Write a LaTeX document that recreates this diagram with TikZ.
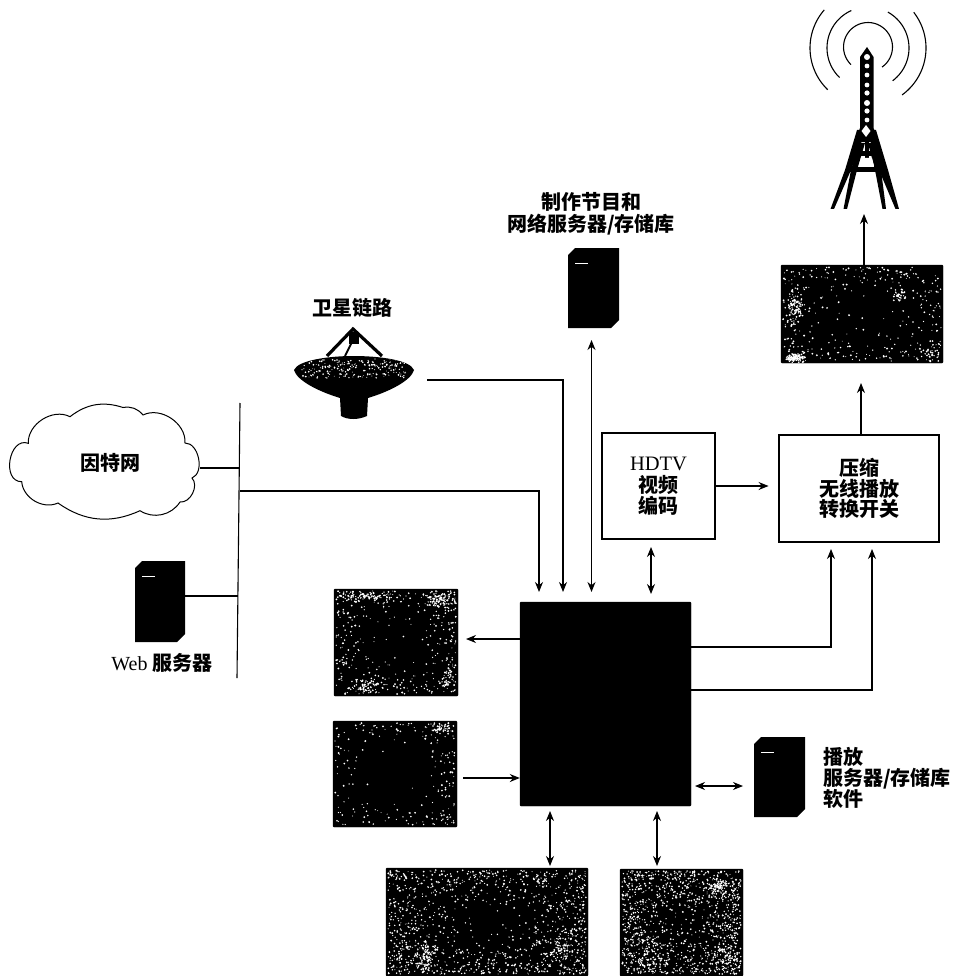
\documentclass[tikz,border=0pt]{standalone}
\usepackage{fontspec}
\setmainfont{Liberation Serif}
\newfontfamily\cjk{Noto Sans CJK SC}
\usetikzlibrary{arrows.meta}
\tikzset{
  x=1pt,y=-1pt,
  lbl/.style={font=\cjk\bfseries\fontsize{20}{22}\selectfont,align=center,inner sep=0pt,text=black},
  plainbox/.style={draw=black,line width=1.1pt,fill=white,inner sep=0pt,align=center,font=\cjk\bfseries\fontsize{20}{20.5}\selectfont,text=black},
  solidbox/.style={fill=black,draw=black,inner sep=0pt,rounded corners=1pt},
  conn/.style={line width=1.1pt,draw=black},
  arr/.style={conn,-{Stealth[length=10pt,width=8pt]}},
  darr/.style={conn,{Stealth[length=10pt,width=8pt]}-{Stealth[length=10pt,width=8pt]}},
  wave/.style={line width=1.1pt,draw=black},
  speck/.style={fill=white},
}
% name, x1, y1, x2, y2, attempts, edge exponent
\newcommand{\speckbox}[7]{%
  \node[solidbox,minimum width={(#4-#2)*1pt},minimum height={(#5-#3)*1pt}] (#1) at ({(#2+#4)/2},{(#3+#5)/2}) {};
  \foreach \spI in {1,...,#6}{%
    \pgfmathsetmacro{\spU}{rnd}\pgfmathsetmacro{\spV}{rnd}
    \pgfmathsetmacro{\spKeep}{rnd<pow(max(abs(2*\spU-1),abs(2*\spV-1)),#7) ? 1 : 0}
    \ifnum\spKeep=1
      \fill[speck] ({#2+2+(#4-#2-4)*\spU},{#3+2+(#5-#3-4)*\spV}) circle[radius=0.45+0.6*rnd];
    \fi
  }
}
% cx, cy, rx, ry, count: a bright patch of the grain
\newcommand{\speckpatch}[5]{%
  \foreach \spI in {1,...,#5}{%
    \fill[speck] ({#1+#3*(rnd+rnd-1)},{#2+#4*(rnd+rnd-1)}) circle[radius=0.5+0.6*rnd];
  }
}
\newcommand{\serverbox}[5]{% name x1 y1 x2 y2
  \fill[black] (#2+7,#3) -- (#4,#3) -- (#4,#5-8) -- (#4-8,#5) -- (#2,#5) -- (#2,#3+7) -- cycle;
  \coordinate (#1-e) at (#4,{(#3+#5)/2});
  \coordinate (#1-s) at ({(#2+#4)/2},#5);
  \draw[white,line width=0.6pt] (#2+7,#3+15) -- (#2+20,#3+15);
}
\newcommand{\wavearc}[4]{% cy radius from to
  \draw[wave] plot[domain=#3:#4,samples=40,smooth] ({868+#2*cos(\x)},{#1-#2*sin(\x)});
}
\begin{document}
\begin{tikzpicture}
\pgfmathsetseed{42}
\useasboundingbox (0,0) rectangle (958,976);
\fill[white] (0,0) rectangle (958,976);

% tower waves
\wavearc{47}{24.5}{-55}{226}
\wavearc{48}{41}{114}{226}
\wavearc{48}{41}{-53}{61}
\wavearc{48}{58}{139}{226}
\wavearc{48}{58}{-54}{38}
% tower
\fill[black] (867,47) -- (873.5,57) -- (873.5,128) -- (879,142) -- (855,142) -- (860,128) -- (860,57) -- cycle;
\fill[black] (857,130) -- (866,130) -- (851,170) -- (834,209) -- (830.5,209) -- (845,170) -- cycle;
\fill[black] (867,130) -- (876,130) -- (888,170) -- (899,209) -- (895.5,209) -- (879,170) -- cycle;
\fill[black] (859,143) -- (865,143) -- (857,170) -- (847,209) -- (843.5,209) -- (851,170) -- cycle;
\fill[black] (868,143) -- (874,143) -- (881,170) -- (886,209) -- (882.5,209) -- (875,170) -- cycle;
\fill[black] (847,167) rectangle (885,172);
\fill[black] (853,151) rectangle (880,156);
\fill[black] (864.5,130) rectangle (868.5,158);
\foreach \ty/\tr in {57/3,66/2.4,75/2.4,85/2.4,93/2.6,103/3,111/2.6,120/2.4}{
  \fill[white] (867,\ty) circle[radius=\tr];
}
\fill[white] (866,125) -- (870.5,131) -- (866,137) -- (861.5,131) -- cycle;
\fill[white] (861,158) -- (872,158) -- (874,166) -- (859,166) -- cycle;

% speckled boxes
\speckbox{tx}{781}{265}{943}{363}{650}{1.6}
\speckpatch{795}{307}{9}{20}{90}
\speckpatch{795}{358}{10}{5}{110}
\speckpatch{900}{295}{8}{7}{30}
\speckpatch{930}{355}{10}{8}{30}
\speckbox{ma}{334}{589}{458}{696}{800}{2.2}
\speckpatch{365}{597}{30}{7}{80}
\speckpatch{440}{600}{16}{9}{80}
\speckpatch{365}{686}{22}{8}{60}
\speckpatch{448}{680}{8}{14}{40}
\speckbox{mb}{333}{721}{457}{827}{550}{3}
\speckpatch{440}{728}{14}{6}{45}
\speckbox{mc}{386}{868}{588}{976}{2000}{1.5}
\speckpatch{427}{955}{12}{16}{90}
\speckpatch{560}{950}{22}{20}{70}
\speckbox{md}{620}{869}{743}{976}{1700}{1}
\speckpatch{718}{887}{10}{8}{60}
\speckpatch{650}{955}{18}{18}{60}
\speckpatch{725}{955}{14}{18}{60}

% central block
\node[solidbox,minimum width=171pt,minimum height=204pt] (core) at (605.5,704) {};

% white boxes
\node[plainbox,minimum width=113pt,minimum height=106pt] (hd) at (658.5,486) {{\rmfamily\mdseries\fontsize{20.5}{25}\selectfont HDTV}\\[2pt]视频\\编码};
\node[plainbox,minimum width=160pt,minimum height=107pt] (comp) at (859,488.5) {压缩\\无线播放\\转换开关};

% servers
\serverbox{prod}{568}{248}{619}{328}
\serverbox{web}{135}{561}{185}{642}
\serverbox{play}{754}{737}{805}{817}

% cloud
\draw[line width=1pt,fill=white] (21.7,481.7) to[bend left=100,looseness=1.35] (28.3,443.3) to[bend left=60] (70,416.7) to[bend left=28] (123,407.5) to[bend left=30] (143,415) to[bend left=60] (185,443) to[bend left=80] (192,478) to[bend left=70] (180,502) to[bend left=45] (140,510.7) to[bend left=30] (58,503) to[bend left=55] cycle;
\node[lbl] (inet) at (110,463) {因特网};
\coordinate (inetE) at (200,468);

% dish
\fill[black] (294,370) .. controls (298,360) and (330,356) .. (353,356) .. controls (380,356) and (410,360) .. (414,370) .. controls (411,381) and (388,392) .. (368,398) -- (367,416) .. controls (358,420) and (348,420) .. (341,416) -- (340,398) .. controls (320,392) and (297,381) .. (294,370) -- cycle;
\draw[line width=3.2pt] (327,356) -- (353,329) -- (382,356);
\draw[line width=2pt] (352,342) -- (345,356);
\fill[black] (349,332) rectangle (359,344);
\foreach \dI in {1,...,220}{
  \fill[speck] ({302+104*rnd},{359+19*rnd}) circle[radius=0.4+0.6*rnd];
}
\coordinate (dish) at (427,380);

% bus
\coordinate (bt) at (240,403);
\coordinate (bb) at (237,678);
\draw[conn] (bt) -- (bb);
\coordinate (j1) at (240,468);
\coordinate (j2) at (240,491);
\coordinate (j3) at (238,596);
\draw[conn] (inetE) -- (j1);
\draw[conn] (web-e |- j3) -- (j3);

% connectors
\coordinate (c1) at (539,592);
\coordinate (c2) at (563,592);
\coordinate (c3) at (591.5,592);
\coordinate (c3t) at (591.5,340);
\draw[arr] (j2) -| (c1);
\draw[arr] (dish) -| (c2);
\draw[darr] (c3t) -- (c3);
\draw[darr] (651,547) -- (651,594);
\draw[arr] (hd.east) -- ++(53,0);
\draw[arr] (861,435) -- (861,383);
\draw[arr] (864,265) -- (864,214);
\draw[arr] (core.west |- 0,639) -- (466,639);
\draw[arr] (463,778) -- (core.west |- 0,778);
\draw[arr] (core.east |- 0,647) -| (831,549);
\draw[arr] (core.east |- 0,690) -| (872,549);
\draw[darr] (695,786) -- (743,786);
\draw[darr] (550,811) -- (550,866);
\draw[darr] (657,811) -- (657,866);

% labels
\node[lbl] (t1) at (591,214) {制作节目和\\网络服务器/存储库};
\node[lbl] (t2) at (352,308) {卫星链路};
\node[lbl,font=\fontsize{20}{22}\selectfont] (t3) at (162,663) {Web {\cjk\bfseries 服务器}};
\node[lbl,align=left,anchor=west,font=\cjk\bfseries\fontsize{20}{21}\selectfont] (t4) at (823,778) {播放\\服务器/存储库\\软件};
\end{tikzpicture}
\end{document}
